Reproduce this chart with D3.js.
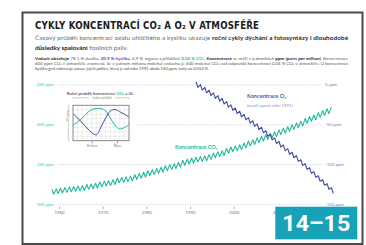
<!DOCTYPE html>
<html>
<head>
<meta charset="utf-8">
<script src="https://cdn.jsdelivr.net/npm/d3@7"></script>
<style>
body{margin:0;background:#fff}
svg{display:block;font-family:Lato,"Open Sans",sans-serif}
</style>
</head>
<body>
<div id="chart"></div>
<script>
// CO2 (ppm), May highs and October lows per year
let co2Years = d3.range(1958, 2023);
let co2Max = [318.3,319.0,319.9,320.6,321.5,322.0,322.6,323.0,324.4,325.2,326.0,327.6,328.7,329.3,330.5,332.7,333.2,334.1,335.0,336.8,
338.4,339.8,341.8,343.1,344.5,346.2,347.9,349.4,350.6,352.3,354.7,356.2,357.5,358.7,359.5,360.2,362.0,364.0,365.7,366.9,
369.8,371.5,372.7,374.3,376.5,379.0,380.7,383.0,385.1,387.0,388.8,390.6,393.1,394.9,397.1,399.7,401.8,404.0,407.4,409.8,
411.7,414.7,417.2,419.5,421.6];
let co2Min = [312.3,313.0,313.9,314.6,315.5,316.0,316.6,317.0,318.4,319.2,320.0,321.6,322.7,323.3,324.5,326.7,327.2,328.1,329.0,330.8,
332.4,333.8,335.8,337.1,338.5,340.2,341.9,343.4,344.6,346.3,348.7,350.2,351.5,352.7,353.5,354.2,356.0,358.0,359.7,360.9,
363.8,365.5,366.7,368.3,370.5,373.0,374.7,377.0,379.1,381.0,382.8,384.6,387.1,388.9,391.1,393.7,395.8,398.0,401.4,403.8,
405.7,408.7,411.2,413.5];
// O2 difference against 1991 (ppm), highs and lows per year
let o2Years = d3.range(1991, 2023);
let o2Max = [3.5,0,-3.5,-7,-10.5,-14,-17.5,-21.5,-25.5,-29.5,-33.5,-37.5,-41.5,-45.5,-49.5,-53.5,-58,-62.5,-67,-71.5,
-76,-80.5,-85,-89.5,-94.5,-99.5,-104.5,-109.5,-114.5,-119.5,-124.5,-129.5];
let o2Min = [-3.5,-7,-10.5,-14,-17.5,-21,-24.5,-28.5,-32.5,-36.5,-40.5,-44.5,-48.5,-52.5,-56.5,-60.5,-65,-69.5,-74,-78.5,
-83,-87.5,-92,-96.5,-101.5,-106.5,-111.5,-116.5,-121.5,-126.5,-131.5,-136.5];
let highMonth = 5, lowMonth = 10;

// 2020 sits under the page badge in the original, so it is left out
let xTicks = [1960,1970,1980,1990,2000,2010];
let leftTicks = [300,350,400,450];
let rightTicks = [-150,-100,-50,0];

// inset: one year, relative values
let insetMonths = d3.range(0, 13);
let insetCO2 = [4.4,5.3,6.4,7.8,8.8,9.1,9.1,8.4,6.4,4.4,3.3,3.7,4.6];
let insetO2 = [7.6,6.4,5.0,3.6,2.3,1.7,3.9,6.4,8.4,8.8,8.2,7.5,6.7];
let insetTicks = [4, 9.4];
let insetTickNames = ["Květen","Říjen"];

let teal = "#1fb89c", blue = "#3f4ba3";

let svg = d3.select("#chart").append("svg").attr("width",366).attr("height",245);

// frame
svg.append("rect").attr("x",22.5).attr("y",12.5).attr("width",340).attr("height",231.5)
  .attr("fill","#fff").attr("stroke","#4a4a4a").attr("stroke-width",2);

svg.append("text").attr("x",35).attr("y",28.6).attr("textLength",224).attr("lengthAdjust","spacing")
  .style("font-family","'DejaVu Sans Condensed','DejaVu Sans'").style("font-stretch","condensed")
  .style("font-weight","bold").style("font-size","9.6px").attr("fill","#1c1c1c")
  .text("CYKLY KONCENTRACÍ CO₂ A O₂ V ATMOSFÉŘE");

function textLine(x,y,size,color,parts,len){
  let t = svg.append("text").attr("x",x).attr("y",y).style("font-size",size+"px").attr("fill",color);
  if(len) t.attr("textLength",len).attr("lengthAdjust","spacing");
  parts.forEach(p=>{
    let s = t.append("tspan").text(p[0]);
    if(p[1]) s.style("font-weight","bold").attr("fill",p[1]);
  });
  return t;
}
let dark = "#222";
textLine(35,40.4,6.3,"#6a6a6a",[["Časový průběh koncentrací oxidu uhličitého a kyslíku ukazuje "],
  ["roční cykly dýchání a fotosyntézy i dlouhodobé",dark]],313);
textLine(35,50.2,6.3,"#6a6a6a",[["důsledky spalování",dark],[" fosilních paliv."]],93);

textLine(35,60,4.4,"#555",[["Vzduch obsahuje",dark],[" 78,1 % dusíku, "],["20,9 % kyslíku","#4553b5"],
  [", 0,9 % argonu a přibližně "],["0,04 % CO₂",teal],[". "],["Koncentrace",dark],[" se měří v jednotkách "],
  ["ppm (parts per million)",dark],[". Koncentrace"]],313);
textLine(35,64.8,4.4,"#555",[["400 ppm CO₂ v atmosféře znamená, že v jednom milionu molekul vzduchu je 400 molekul CO₂ což odpovídá koncentraci 0,04 % CO₂ v atmosféře. U koncentrací"]],313);
textLine(35,69.5,4.4,"#555",[["kyslíku graf zobrazuje pouze jejich pokles, který je od roku 1991 okolo 140 ppm, tedy asi 0,014 %."]],174);

/*scales*/
let x = d3.scaleLinear().domain([1960,2000]).range([59,233.7]);
let yL = d3.scaleLinear().domain([300,450]).range([204,84.5]);
let yR = d3.scaleLinear().domain([-150,0]).range([204,84.5]);

/*axes*/
let gridL = svg.append("g").attr("transform","translate(58,0)")
  .call(d3.axisLeft(yL).tickValues(leftTicks).tickSize(-264).tickPadding(4).tickFormat(d=>d+" ppm"));
gridL.select(".domain").remove();
gridL.selectAll("line").attr("stroke","#a9aecb").attr("stroke-width",0.6).attr("stroke-dasharray","1,1.4");
gridL.selectAll("text").attr("fill","#4cbfa8").style("font-size","4.4px").style("font-family","Lato");

let axR = svg.append("g").attr("transform","translate(325,0)")
  .call(d3.axisRight(yR).tickValues(rightTicks).tickSize(0).tickPadding(0).tickFormat(d=>d+" ppm"));
axR.select(".domain").remove();
axR.selectAll("text").attr("fill","#7e85bd").style("font-size","4.4px").style("font-family","Lato");

let axX = svg.append("g").attr("transform","translate(0,206.6)")
  .call(d3.axisBottom(x).tickValues(xTicks).tickSize(2.4).tickPadding(1.6).tickFormat(d3.format("d")));
axX.select(".domain").remove();
axX.selectAll("line").attr("stroke","#777").attr("stroke-width",0.6);
axX.selectAll("text").attr("fill","#777").style("font-size","4.4px").style("font-family","Lato");

// zigzag series
function zig(years,hi,lo){
  let pts = [];
  years.forEach((yr,i)=>{
    pts.push([yr+(highMonth-0.5)/12, hi[i]]);
    if(lo[i]!==undefined) pts.push([yr+(lowMonth-0.5)/12, lo[i]]);
  });
  return pts;
}
let co2Line = d3.line().x(d=>x(d[0])).y(d=>yL(d[1]));
let o2Line = d3.line().x(d=>x(d[0])).y(d=>yR(d[1]));

svg.append("path").attr("d",co2Line(zig(co2Years,co2Max,co2Min)))
  .attr("fill","none").attr("stroke",teal).attr("stroke-width",1.1).attr("stroke-linejoin","round");
svg.append("path").attr("d",o2Line(zig(o2Years,o2Max,o2Min)))
  .attr("fill","none").attr("stroke",blue).attr("stroke-width",1.1).attr("stroke-linejoin","round");

// series labels
svg.append("text").attr("x",247).attr("y",98.3).style("font-size","5.6px").style("font-weight","bold")
  .attr("fill","#4f5aab").text("Koncentrace O₂");
svg.append("text").attr("x",247).attr("y",106.6).style("font-size","4.3px").attr("fill","#9096c4")
  .text("(rozdíl oproti roku 1991)");
svg.append("text").attr("x",175).attr("y",149).style("font-size","5.6px").style("font-weight","bold")
  .attr("fill",teal).text("Koncentrace CO₂");

/*inset*/
svg.append("rect").attr("x",58.5).attr("y",88).attr("width",78).attr("height",62).attr("fill","#fff");
let ins = svg.append("text").attr("x",66.7).attr("y",94.6).style("font-size","4.3px").style("font-weight","bold").attr("fill","#5b6282");
ins.append("tspan").text("Roční průběh koncentrací ");
ins.append("tspan").attr("fill",teal).text("CO₂");
ins.append("tspan").text(" a ");
ins.append("tspan").attr("fill",blue).text("O₂");

let ix = d3.scaleLinear().domain([0,12]).range([73,129]);
let iy = d3.scaleLinear().domain([0,10]).range([140.7,105.3]);

let ig = svg.append("g");
ig.selectAll(".vg").data(d3.range(1,12)).enter().append("line")
  .attr("x1",d=>ix(d)).attr("x2",d=>ix(d)).attr("y1",iy(0)).attr("y2",iy(10)).attr("stroke","#dcdcdc").attr("stroke-width",0.5);
ig.selectAll(".hg").data(d3.range(1.25,10,1.25)).enter().append("line")
  .attr("y1",d=>iy(d)).attr("y2",d=>iy(d)).attr("x1",ix(0)).attr("x2",ix(12)).attr("stroke","#dcdcdc").attr("stroke-width",0.5);

let iLine = d3.line().x((d,i)=>ix(insetMonths[i])).y(d=>iy(d)).curve(d3.curveCatmullRom);
ig.append("path").attr("d",iLine(insetCO2)).attr("fill","none").attr("stroke",teal).attr("stroke-width",1);
ig.append("path").attr("d",iLine(insetO2)).attr("fill","none").attr("stroke",blue).attr("stroke-width",1);
ig.append("rect").attr("x",ix(0)).attr("y",iy(10)).attr("width",ix(12)-ix(0)).attr("height",iy(0)-iy(10))
  .attr("fill","none").attr("stroke","#7d7d7d").attr("stroke-width",0.9);

// brackets
let br = "#9a9a9a";
ig.append("path").attr("d","M73,99.2V97.8H89M115,97.8H129V99.2").attr("fill","none").attr("stroke",br).attr("stroke-width",0.5);
ig.append("text").attr("x",102).attr("y",99).attr("text-anchor","middle").style("font-size","3.3px").attr("fill","#888").text("Jeden průběh");
ig.append("path").attr("d","M69.6,105.3H68.3V111M68.3,121V140.7H69.6").attr("fill","none").attr("stroke",br).attr("stroke-width",0.5);
ig.append("text").attr("transform","translate(69.4,116) rotate(-90)").attr("text-anchor","middle")
  .style("font-size","3.2px").attr("fill","#888").text("10 ppm");

let iax = ig.append("g").attr("transform","translate(0,141.2)")
  .call(d3.axisBottom(ix).tickValues(insetTicks).tickSize(2.2).tickPadding(1.2).tickFormat((d,i)=>insetTickNames[i]));
iax.select(".domain").remove();
iax.selectAll("line").attr("stroke","#555").attr("stroke-width",0.6);
iax.selectAll("text").attr("fill","#777").style("font-size","3.4px").style("font-family","Lato");

// page badge
svg.append("rect").attr("x",275.3).attr("y",206.7).attr("width",82).attr("height",32.5).attr("fill","#17a2b8");
svg.append("line").attr("x1",275.3).attr("x2",357.3).attr("y1",239.5).attr("y2",239.5).attr("stroke","#a5dbe4").attr("stroke-width",0.8);
svg.append("text").attr("x",316.3).attr("y",230.6).attr("text-anchor","middle").attr("textLength",68).attr("lengthAdjust","spacingAndGlyphs")
  .style("font-family","Roboto").style("font-weight","bold").style("font-size","22.5px").attr("fill","#fff").text("14–15");
</script>
</body>
</html>
